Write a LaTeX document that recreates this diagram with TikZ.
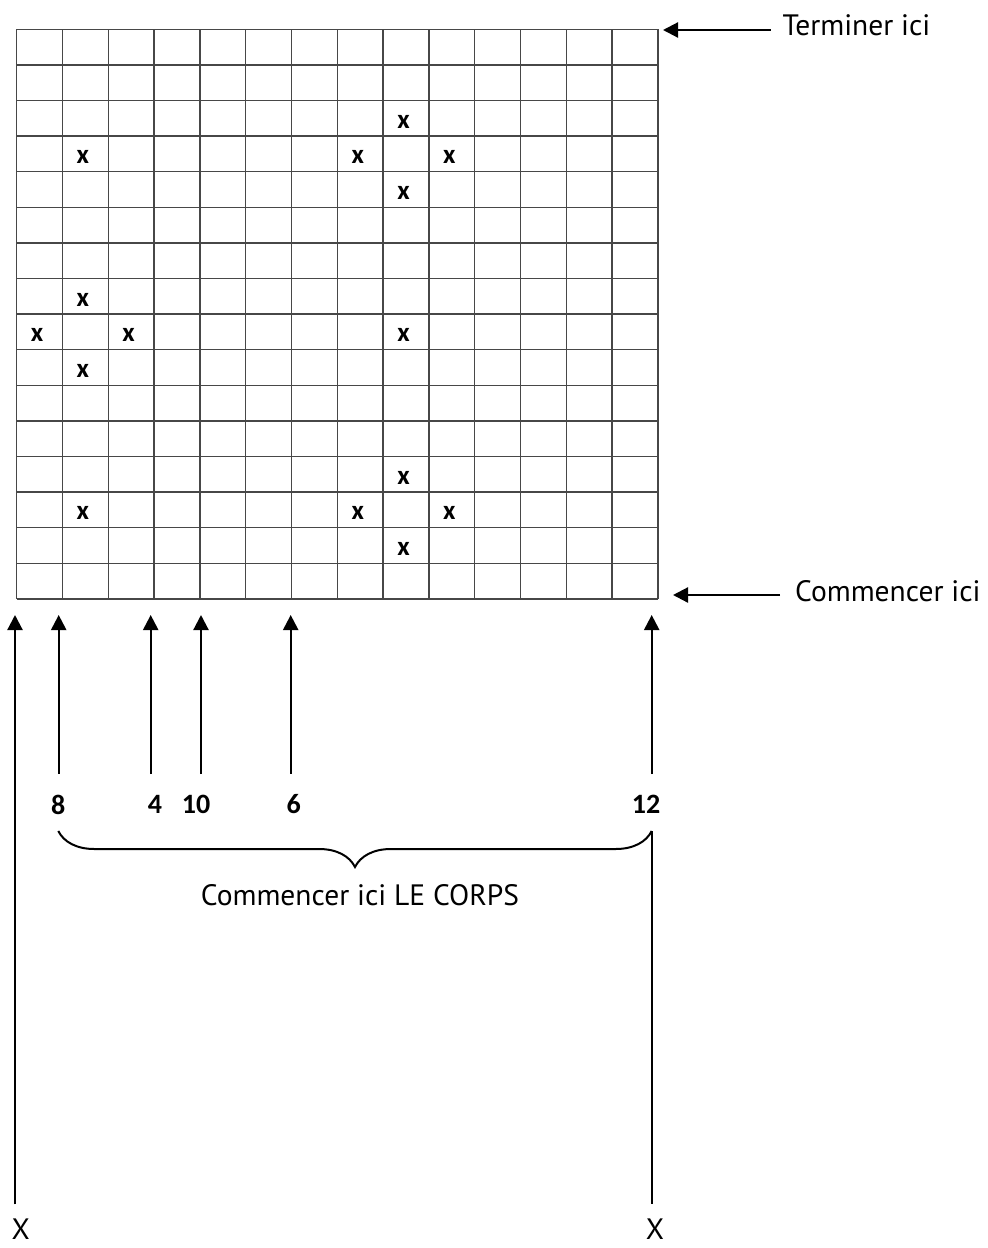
\documentclass[tikz,border=0pt]{standalone}
\usepackage{fontspec}
\setmainfont{PT Sans}
\newfontfamily\numfont{Carlito}
\usepackage{tikz}
\usetikzlibrary{positioning}
\usetikzlibrary{arrows.meta, decorations.pathreplacing}

\begin{document}
\begin{tikzpicture}[x=1pt, y=-1pt,
    cell/.style={draw=black!72, line width=1.3pt},
    xmark/.style={font=\numfont\bfseries\fontsize{27}{27}\selectfont, inner sep=0pt},
    num/.style={font=\numfont\bfseries\fontsize{28}{28}\selectfont, inner sep=0pt},
    lbl/.style={font=\fontsize{29.5}{29.5}\selectfont, inner sep=0pt},
    arr/.style={line width=2.2pt, -{Triangle[length=15pt, width=15pt]}},
    bar/.style={line width=2.2pt}]
  \useasboundingbox (0,0) rectangle (988,1248);
  \def\gx{16.7}
  \def\gy{29.3}
  \def\cw{45.8}
  \def\rh{35.6}

  % grid
  \foreach \i in {0,...,14}
    \draw[cell] (\gx+\i*\cw, \gy) -- (\gx+\i*\cw, \gy+16*\rh);
  \foreach \j in {0,...,16}
    \draw[cell] (\gx, \gy+\j*\rh) -- (\gx+14*\cw, \gy+\j*\rh);

  % x marks (column/row)
  \foreach \c/\r [count=\k] in {8/2, 1/3, 7/3, 9/3, 8/4, 1/7, 0/8, 2/8, 8/8,
                                1/9, 8/12, 1/13, 7/13, 9/13, 8/14}
    \node[xmark] (x\k) at (\gx+\c*\cw+0.5*\cw-2.5, \gy+\r*\rh+0.5*\rh+3.5) {x};

  % right side labels
  \coordinate (END) at (663,30);
  \node[lbl, anchor=west] (finish) at (782.5,25) {Terminer ici};
  \draw[arr, shorten <=12pt] (finish.west |- END) -- (END);

  \coordinate (START) at (673,595);
  \node[lbl, anchor=west] (start) at (795,591.5) {Commencer ici};
  \draw[arr, shorten <=15pt] (start.west |- START) -- (START);

  % arrows under the grid
  \coordinate (T0) at (15,615);
  \coordinate (T8) at (58.7,615);
  \coordinate (T4) at (150.7,615);
  \coordinate (T10) at (201,615);
  \coordinate (T6) at (290.7,615);
  \coordinate (T12) at (651.7,615);

  \node[num] (n8) at (58.3,804.5) {8};
  \node[num] (n4) at (155,804.5) {4};
  \node[num] (n10) at (196,804.5) {10};
  \node[num] (n6) at (293.7,804.5) {6};
  \node[num] (n12) at (646,804.5) {12};

  \draw[arr, shorten <=21pt] (T8 |- n8.north) -- (T8);
  \draw[arr, shorten <=21pt] (T4 |- n4.north) -- (T4);
  \draw[arr, shorten <=21pt] (T10 |- n10.north) -- (T10);
  \draw[arr, shorten <=21pt] (T6 |- n6.north) -- (T6);
  \draw[arr, shorten <=21pt] (T12 |- n12.north) -- (T12);

  \node[lbl] (xl) at (20.8,1229) {X};
  \node[lbl] (xr) at (655,1229) {X};
  \draw[arr, shorten <=14pt] (T0 |- xl.north) -- (T0);

  % brace
  \coordinate (BL) at (58.3,831);
  \coordinate (BR) at (651.7,831);
  \draw[bar, line width=2pt, decorate,
        decoration={brace, mirror, amplitude=36pt}] (BL) -- (BR);
  \draw[bar, shorten >=14pt] (BR) -- (BR |- xr.north);
  \node[lbl] (body) at (360,895) {Commencer ici LE CORPS};
\end{tikzpicture}
\end{document}
